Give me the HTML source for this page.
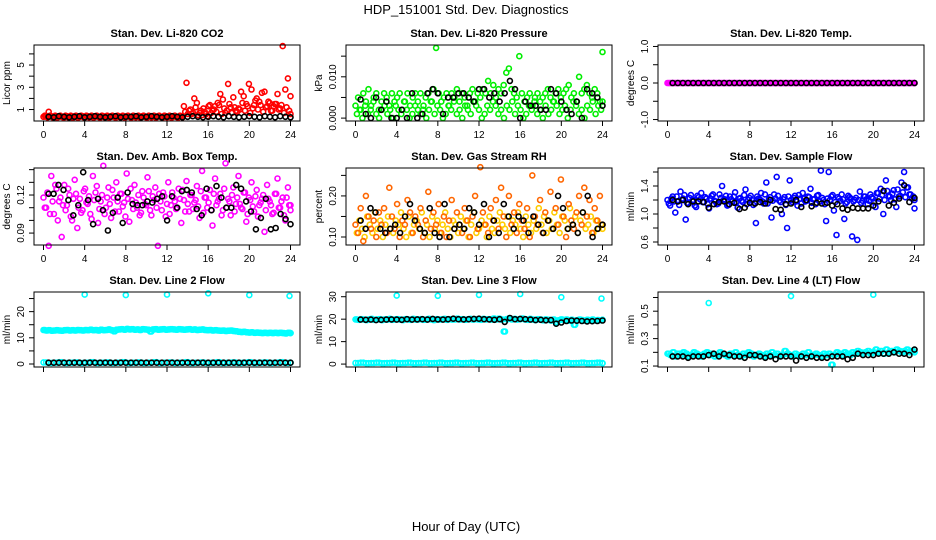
<!DOCTYPE html>
<html><head><meta charset="utf-8"><style>
html,body{margin:0;padding:0;background:#fff}
svg{display:block;font-family:"Liberation Sans",sans-serif}
</style></head><body>
<svg id="c" width="936" height="540" viewBox="0 0 936 540">
<text x="466" y="14" text-anchor="middle" font-size="13">HDP_151001  Std. Dev. Diagnostics</text>
<text x="466" y="531" text-anchor="middle" font-size="13">Hour of Day (UTC)</text>
</svg>
<script>
const xTicks=[0,4,8,12,16,20,24];
const outHours6=[4,8,12,16,20,23.9];
const outHours3=[4,12,20];
const co2A=[0.35,0.4,0.8,0.4,0.35,0.3,0.4,0.35,0.3,0.4,0.35,0.3,0.4,0.3,0.35,0.4,0.3,0.4,0.35,0.3,0.4,0.35,0.3,0.4,0.35,0.3,0.4,0.35,0.3,0.4,0.35,0.3,0.4,0.35,0.3,0.4,0.35,0.3,0.4,0.35,0.3,0.4,0.35,0.3,0.4,0.35,0.3,0.4,0.35,0.3,0.4,0.35,0.3,0.4,1.3,3.4,0.9,0.6,2.0,1.6,0.7,0.5,0.8,0.4,1.4,0.9,1.3,1.6,2.4,1.9,0.7,3.3,1.2,2.1,0.9,1.1,2.6,2.2,1.5,3.3,2.8,1.4,2.0,1.7,2.5,2.6,1.3,1.6,0.9,1.5,2.4,1.1,6.7,2.8,3.8,2.2];
const co2B=[0.45,0.3,0.45,0.3,0.45,0.3,0.45,0.3,0.45,0.3,0.45,0.3,0.45,0.3,0.45,0.3,0.45,0.3,0.45,0.3,0.45,0.3,0.45,0.3,0.45,0.3,0.45,0.3,0.45,0.3,0.45,0.3,0.45,0.3,0.45,0.3,0.45,0.3,0.45,0.3,0.45,0.3,0.45,0.3,0.45,0.3,0.45,0.3,0.45,0.3,0.45,0.3,0.45,0.3,0.8,0.6,1.0,0.7,1.2,0.5,0.9,1.1,0.6,1.3,0.7,1.0,0.8,1.4,0.6,1.1,0.9,1.5,0.7,1.2,0.8,1.0,1.6,0.9,1.3,0.7,1.1,1.8,1.0,1.4,0.8,1.2,1.7,0.9,1.3,1.5,1.0,1.4,0.7,1.2,0.9,0.6];
const co2K=[0.35,0.3,0.4,0.35,0.3,0.35,0.4,0.3,0.35,0.4,0.35,0.3,0.35,0.4,0.3,0.35,0.35,0.4,0.3,0.35,0.4,0.35,0.3,0.35,0.4,0.35,0.3,0.35,0.4,0.35,0.3,0.35,0.4,0.35,0.3,0.4,0.35,0.3,0.35,0.4,0.35,0.3,0.4,0.35,0.3,0.4,0.35,0.3];
const pA=[0.003,0.005,0.002,0.006,0.004,0.007,0.003,0.005,0.006,0.002,0.004,0.006,0.005,0.003,0.006,0.004,0.005,0.006,0.002,0.004,0.006,0.003,0.005,0.006,0.004,0.006,0.002,0.005,0.006,0.004,0.007,0.017,0.006,0.004,0.005,0.006,0.003,0.006,0.005,0.007,0.004,0.006,0.005,0.003,0.006,0.007,0.004,0.006,0.005,0.007,0.006,0.009,0.006,0.008,0.005,0.007,0.006,0.008,0.011,0.012,0.007,0.006,0.005,0.015,0.006,0.004,0.005,0.006,0.003,0.005,0.006,0.004,0.005,0.006,0.007,0.005,0.004,0.006,0.007,0.005,0.006,0.007,0.008,0.005,0.006,0.004,0.010,0.006,0.007,0.008,0.006,0.005,0.007,0.006,0.004,0.016];
const pB=[0.001,0.002,0.000,0.003,0.001,0.002,0.004,0.001,0.000,0.002,0.003,0.001,0.002,0.000,0.003,0.002,0.001,0.004,0.002,0.000,0.001,0.003,0.002,0.001,0.003,0.000,0.002,0.004,0.001,0.003,0.002,0.000,0.001,0.003,0.002,0.004,0.001,0.002,0.000,0.003,0.002,0.001,0.004,0.003,0.002,0.000,0.001,0.003,0.002,0.004,0.003,0.001,0.002,0.000,0.003,0.002,0.004,0.001,0.003,0.002,0.000,0.001,0.003,0.002,0.004,0.001,0.002,0.000,0.003,0.001,0.002,0.004,0.003,0.001,0.002,0.003,0.000,0.002,0.004,0.003,0.001,0.002,0.000,0.003,0.002,0.004,0.001,0.003,0.002,0.004];
const pK=[0.0045,0.001,0.000,0.005,0.002,0.004,0.000,0.000,0.002,0.000,0.006,0.000,0.001,0.006,0.007,0.006,0.001,0.005,0.005,0.006,0.006,0.005,0.004,0.007,0.007,0.005,0.006,0.004,0.006,0.009,0.007,0.000,0.004,0.003,0.003,0.002,0.002,0.007,0.006,0.004,0.002,0.001,0.004,0.000,0.007,0.006,0.005,0.003];
const tA=[0,0,0,0,0,0,0,0,0,0,0,0,0,0,0,0,0,0,0,0,0,0,0,0,0,0,0,0,0,0,0,0,0,0,0,0,0,0,0,0,0,0,0,0,0,0,0,0,0,0,0,0,0,0,0,0,0,0,0,0,0,0,0,0,0,0,0,0,0,0,0,0,0,0,0,0,0,0,0,0,0,0,0,0,0,0,0,0,0,0,0,0,0,0,0,0];
const tK=[0,0,0,0,0,0,0,0,0,0,0,0,0,0,0,0,0,0,0,0,0,0,0,0,0,0,0,0,0,0,0,0,0,0,0,0,0,0,0,0,0,0,0,0,0,0,0,0];
const aA=[0.118,0.110,0.080,0.135,0.105,0.125,0.115,0.087,0.128,0.112,0.120,0.100,0.132,0.094,0.117,0.108,0.125,0.113,0.105,0.135,0.122,0.098,0.115,0.143,0.110,0.126,0.102,0.118,0.130,0.107,0.121,0.114,0.137,0.099,0.116,0.128,0.110,0.104,0.123,0.113,0.134,0.108,0.119,0.126,0.080,0.115,0.122,0.103,0.130,0.112,0.118,0.109,0.125,0.098,0.116,0.131,0.107,0.120,0.114,0.127,0.102,0.139,0.118,0.110,0.124,0.096,0.133,0.115,0.121,0.108,0.145,0.117,0.104,0.126,0.113,0.135,0.110,0.122,0.099,0.118,0.130,0.107,0.124,0.112,0.117,0.091,0.128,0.115,0.105,0.121,0.133,0.110,0.118,0.100,0.126,0.112];
const aB=[0.110,0.122,0.105,0.115,0.128,0.100,0.118,0.112,0.108,0.125,0.103,0.117,0.121,0.110,0.106,0.123,0.114,0.119,0.101,0.116,0.127,0.109,0.120,0.105,0.118,0.113,0.124,0.107,0.115,0.121,0.111,0.103,0.117,0.125,0.109,0.114,0.120,0.106,0.118,0.112,0.123,0.104,0.116,0.110,0.121,0.108,0.119,0.113,0.105,0.122,0.115,0.110,0.117,0.124,0.107,0.113,0.120,0.109,0.116,0.111,0.123,0.106,0.118,0.114,0.108,0.121,0.112,0.117,0.104,0.125,0.110,0.115,0.120,0.107,0.118,0.113,0.109,0.122,0.105,0.116,0.111,0.119,0.103,0.114,0.120,0.108,0.117,0.112,0.106,0.121,0.110,0.115,0.104,0.118,0.112,0.108];
const aK=[0.121,0.121,0.128,0.124,0.116,0.104,0.112,0.138,0.116,0.097,0.117,0.108,0.092,0.106,0.118,0.098,0.122,0.113,0.112,0.112,0.115,0.114,0.117,0.119,0.100,0.119,0.110,0.123,0.124,0.122,0.109,0.104,0.125,0.108,0.127,0.118,0.110,0.110,0.128,0.125,0.115,0.107,0.093,0.102,0.117,0.093,0.094,0.105,0.101,0.097];
const rA=[0.13,0.11,0.17,0.09,0.20,0.15,0.12,0.14,0.10,0.16,0.13,0.17,0.11,0.22,0.15,0.12,0.18,0.10,0.14,0.13,0.19,0.16,0.11,0.15,0.13,0.17,0.10,0.14,0.21,0.12,0.16,0.13,0.18,0.11,0.15,0.10,0.14,0.19,0.12,0.16,0.13,0.11,0.17,0.14,0.10,0.15,0.20,0.12,0.27,0.16,0.13,0.11,0.17,0.14,0.19,0.12,0.22,0.15,0.10,0.20,0.13,0.16,0.11,0.18,0.14,0.12,0.17,0.10,0.25,0.15,0.13,0.19,0.11,0.16,0.14,0.21,0.12,0.17,0.13,0.24,0.15,0.10,0.18,0.14,0.12,0.16,0.20,0.13,0.22,0.15,0.19,0.11,0.17,0.14,0.20,0.13];
const rB=[0.11,0.14,0.12,0.10,0.15,0.13,0.11,0.16,0.12,0.14,0.10,0.13,0.15,0.12,0.11,0.14,0.13,0.16,0.12,0.10,0.15,0.11,0.13,0.14,0.12,0.16,0.11,0.13,0.10,0.15,0.12,0.14,0.11,0.13,0.16,0.12,0.10,0.14,0.13,0.11,0.15,0.12,0.14,0.10,0.13,0.16,0.11,0.12,0.14,0.13,0.10,0.15,0.12,0.11,0.14,0.16,0.13,0.12,0.15,0.11,0.14,0.13,0.16,0.12,0.10,0.15,0.13,0.11,0.14,0.12,0.17,0.13,0.15,0.11,0.14,0.12,0.16,0.13,0.11,0.15,0.14,0.12,0.17,0.13,0.15,0.11,0.14,0.16,0.12,0.13,0.15,0.11,0.14,0.12,0.13,0.12];
const rK=[0.14,0.12,0.17,0.16,0.12,0.11,0.12,0.13,0.11,0.15,0.18,0.14,0.12,0.11,0.17,0.11,0.10,0.18,0.10,0.12,0.13,0.12,0.17,0.16,0.13,0.18,0.10,0.14,0.11,0.18,0.15,0.12,0.15,0.14,0.11,0.15,0.13,0.11,0.14,0.12,0.20,0.17,0.12,0.13,0.11,0.16,0.20,0.10,0.12,0.13];
const sA=[1.20,1.12,1.25,1.02,1.18,1.32,1.22,0.92,1.15,1.27,1.20,1.10,1.24,1.30,1.17,1.22,1.08,1.26,1.19,1.14,1.28,1.40,1.21,1.12,1.25,1.18,1.31,1.09,1.23,1.17,1.35,1.20,1.26,1.13,0.87,1.22,1.30,1.15,1.45,1.21,0.95,1.28,1.53,1.19,1.00,1.24,0.80,1.48,1.17,1.26,1.12,1.22,1.30,1.18,1.25,1.36,1.21,1.14,1.27,1.62,1.20,0.90,1.60,1.25,1.05,0.70,1.22,1.28,0.93,1.17,1.24,0.68,1.20,0.63,1.32,1.19,1.25,1.14,1.28,1.22,1.10,1.30,1.36,1.00,1.48,1.26,1.20,1.34,1.10,1.25,1.45,1.60,1.38,1.28,1.22,1.08];
const sB=[1.15,1.22,1.18,1.25,1.13,1.20,1.27,1.16,1.23,1.19,1.12,1.26,1.21,1.17,1.24,1.14,1.22,1.28,1.18,1.15,1.23,1.20,1.26,1.13,1.21,1.25,1.17,1.22,1.19,1.27,1.14,1.23,1.20,1.16,1.25,1.21,1.18,1.28,1.15,1.24,1.19,1.22,1.26,1.17,1.21,1.13,1.25,1.20,1.23,1.18,1.27,1.15,1.22,1.19,1.24,1.16,1.21,1.26,1.18,1.23,1.14,1.22,1.20,1.27,1.17,1.24,1.19,1.21,1.15,1.26,1.22,1.18,1.23,1.20,1.16,1.25,1.21,1.19,1.24,1.17,1.30,1.22,1.27,1.20,1.33,1.25,1.29,1.21,1.35,1.26,1.31,1.24,1.38,1.28,1.25,1.20];
const sK=[1.20,1.18,1.20,1.14,1.18,1.18,1.17,1.09,1.14,1.17,1.18,1.14,1.16,1.07,1.09,1.16,1.15,1.17,1.15,1.20,1.07,1.06,1.14,1.15,1.20,1.10,1.20,1.11,1.16,1.15,1.16,1.12,1.14,1.08,1.06,1.09,1.08,1.08,1.08,1.12,1.18,1.33,1.12,1.16,1.22,1.41,1.17,1.23];
const l2A=[13.0,12.8,12.9,12.7,12.8,12.9,12.8,12.7,12.9,13.0,12.8,12.9,12.8,13.0,12.9,12.8,13.0,12.9,13.1,12.9,13.0,12.8,13.1,12.9,13.0,13.2,12.9,12.5,13.1,13.2,13.3,13.1,13.4,13.2,13.3,13.1,13.2,13.0,13.3,13.2,13.1,12.4,13.2,13.3,13.1,13.2,13.3,13.1,13.2,13.3,13.2,13.1,13.3,13.2,13.1,13.2,13.3,13.1,13.2,13.0,13.1,13.2,13.0,12.9,13.0,12.8,12.9,12.8,12.7,12.8,12.6,12.7,12.8,12.6,12.5,12.3,12.2,12.3,12.1,12.0,12.1,11.9,12.0,11.9,11.8,11.9,11.8,11.9,11.8,11.9,11.8,11.9,11.8,11.7,11.9,11.8];
const l2Low=[0.6,0.4,0.5,0.7,0.4,0.5,0.6,0.4,0.5,0.7,0.4,0.5,0.6,0.4,0.5,0.7,0.4,0.5,0.6,0.4,0.5,0.7,0.4,0.5,0.6,0.4,0.5,0.7,0.4,0.5,0.6,0.4,0.5,0.7,0.4,0.5,0.6,0.4,0.5,0.7,0.4,0.5,0.6,0.4,0.5,0.7,0.4,0.5];
const l2Out=[26.5,26.3,26.5,27.0,26.3,26.0];
const l2K=[0.5,0.5,0.5,0.5,0.5,0.5,0.5,0.5,0.5,0.5,0.5,0.5,0.5,0.5,0.5,0.5,0.5,0.5,0.5,0.5,0.5,0.5,0.5,0.5,0.5,0.5,0.5,0.5,0.5,0.5,0.5,0.5,0.5,0.5,0.5,0.5,0.5,0.5,0.5,0.5,0.5,0.5,0.5,0.5,0.5,0.5,0.5,0.5];
const l3A=[19.9,19.7,20.0,19.8,19.6,19.9,20.1,19.7,19.8,20.0,19.6,19.9,19.8,20.1,19.7,19.9,20.0,19.8,19.6,20.0,19.9,19.7,20.1,19.8,19.9,20.0,19.7,19.8,20.1,19.9,19.6,20.0,19.8,19.9,20.1,19.7,20.0,19.8,19.9,20.2,19.8,20.0,19.7,19.9,20.1,19.8,20.0,19.9,19.7,20.1,19.9,20.0,19.8,20.3,19.9,20.2,19.8,14.5,20.0,20.4,19.9,20.1,19.8,20.0,20.3,19.9,19.7,20.1,19.8,19.6,20.0,19.8,19.5,19.9,19.7,19.4,19.8,18.6,19.5,19.9,19.6,19.8,19.3,19.7,17.5,19.5,19.8,19.6,19.3,19.7,19.5,19.8,19.4,19.6,19.5,19.7];
const l3Low=[0.5,0.6,0.4,0.5,0.6,0.4,0.5,0.6,0.4,0.5,0.6,0.4,0.5,0.6,0.4,0.5,0.6,0.4,0.5,0.6,0.4,0.5,0.6,0.4,0.5,0.6,0.4,0.5,0.6,0.4,0.5,0.6,0.4,0.5,0.6,0.4,0.5,0.6,0.4,0.5,0.6,0.4,0.5,0.6,0.4,0.5,0.6,0.4];
const l3Out=[30.5,30.4,30.8,31.2,29.8,29.2];
const l3K=[19.8,19.7,19.8,19.6,19.7,19.8,19.9,19.8,19.7,20.0,19.8,19.9,20.0,19.8,20.1,19.9,19.8,20.0,20.2,20.0,19.9,20.0,20.1,20.2,20.0,19.9,19.7,20.0,18.8,20.5,20.0,20.1,20.0,19.8,19.6,19.7,19.5,19.6,18.0,18.5,19.2,19.4,19.3,19.2,19.0,19.1,19.2,19.4];
const l4A=[0.19,0.18,0.20,0.17,0.19,0.18,0.20,0.19,0.17,0.18,0.20,0.19,0.18,0.17,0.19,0.20,0.18,0.19,0.17,0.18,0.20,0.19,0.18,0.17,0.19,0.18,0.20,0.18,0.17,0.19,0.18,0.20,0.19,0.17,0.18,0.19,0.18,0.17,0.19,0.18,0.20,0.18,0.19,0.17,0.18,0.21,0.19,0.18,0.17,0.19,0.18,0.17,0.19,0.18,0.20,0.17,0.18,0.19,0.18,0.17,0.19,0.18,0.19,0.11,0.18,0.20,0.19,0.18,0.20,0.19,0.18,0.20,0.19,0.21,0.20,0.19,0.20,0.21,0.19,0.20,0.22,0.20,0.21,0.19,0.22,0.20,0.21,0.20,0.22,0.21,0.20,0.21,0.22,0.20,0.21,0.20];
const l4Out=[0.56,0.61,0.62];
const l4K=[0.17,0.17,0.17,0.16,0.17,0.17,0.17,0.18,0.19,0.17,0.19,0.18,0.17,0.17,0.16,0.18,0.18,0.17,0.16,0.17,0.15,0.17,0.17,0.17,0.14,0.17,0.16,0.17,0.16,0.16,0.16,0.17,0.17,0.17,0.15,0.16,0.19,0.18,0.18,0.18,0.19,0.19,0.19,0.20,0.19,0.19,0.18,0.22];

const svg=document.getElementById('c');
const NS='http://www.w3.org/2000/svg';
const colLeft=[34,346,658], rowTop=[45,168,292], rowBot=[121,245,367], W=266;
function mk(tag,attrs,parent){const e=document.createElementNS(NS,tag);for(const k in attrs)e.setAttribute(k,attrs[k]);(parent||svg).appendChild(e);return e;}
function panel(o){
  const L=colLeft[o.col],T=rowTop[o.row],B=rowBot[o.row];
  const g=mk('g',{});
  
  
  const xs=h=>L+9.5+h*(W-19)/24;
  const ys=v=>B-(v-o.ymin)/(o.ymax-o.ymin)*(B-T);
  const t=mk('text',{x:L+W/2,y:T-8,'text-anchor':'middle','font-size':11,'font-weight':'bold'},g);
  t.textContent=o.title;
  
  
  const yl=mk('text',{x:L-24,y:(T+B)/2,'text-anchor':'middle','font-size':10,transform:`rotate(-90 ${L-24} ${(T+B)/2})`},g);
  yl.textContent=o.ylab;
  
  
  const pts=mk('g',{fill:'none','stroke-width':1.6},g);
  
  
  o.series.forEach(s=>{
    const n=s.v.length;
    s.v.forEach((v,i)=>{
      let h;
      if(s.h) h=s.h[i];
      else if(s.black) h=0.5+i*23.5/(n-1);
      else { const step=24/(n-1); h=Math.min(24,i*step+(s.off?step/2:0)); }
      const c=mk('circle',{cx:xs(h).toFixed(1),cy:ys(v).toFixed(1),r:2.5,stroke:s.c},pts);
      
      
    });
  });
  const box=mk('rect',{x:L,y:T,width:W,height:B-T,fill:'none',stroke:'#000','stroke-width':1},g);
  
  
  const ax=mk('g',{stroke:'#000','stroke-width':1},g);
  
  
  xTicks.forEach(h=>{mk('line',{x1:xs(h),x2:xs(h),y1:B,y2:B+5},ax);
    if(o.row<2){const tx=mk('text',{x:xs(h),y:B+17,'text-anchor':'middle','font-size':10,stroke:'none'},ax);tx.textContent=h;
      
      }});
  o.yt.forEach((v,i)=>{const y=ys(v);mk('line',{x1:L-5,x2:L,y1:y,y2:y},ax);
    if(o.yl[i]!==''){const tx=mk('text',{x:L-10,y:y,'text-anchor':'middle','font-size':10,stroke:'none',transform:`rotate(-90 ${L-10} ${y})`},ax);tx.textContent=o.yl[i];
      
      }});
}
panel({name:'co2',col:0,row:0,title:'Stan. Dev. Li-820 CO2',ylab:'Licor ppm',ymin:-0.03,ymax:6.8,yt:[1,2,3,4,5,6],yl:['1','','3','','5',''],
  series:[{v:co2B,c:'#ff0000',off:1},{v:co2A,c:'#ff0000'},{v:co2K,c:'#000',black:1}]});
panel({name:'pressure',col:1,row:0,title:'Stan. Dev. Li-820 Pressure',ylab:'kPa',ymin:-0.0007,ymax:0.0177,yt:[0,0.005,0.01,0.015],yl:['0.000','','0.010',''],
  series:[{v:pB,c:'#00ee00',off:1},{v:pA,c:'#00ee00'},{v:pK,c:'#000',black:1}]});
panel({name:'temp',col:2,row:0,title:'Stan. Dev. Li-820 Temp.',ylab:'degrees C',ymin:-1.04,ymax:1.04,yt:[-1,-0.5,0,0.5,1],yl:['-1.0','','0.0','','1.0'],
  series:[{v:tA,c:'#ff00ff'},{v:tA,c:'#ff00ff',off:1},{v:tK,c:'#000',black:1}]});
panel({name:'amb-temp',col:0,row:1,title:'Stan. Dev. Amb. Box Temp.',ylab:'degrees C',ymin:0.0806,ymax:0.1413,yt:[0.09,0.10,0.11,0.12,0.13,0.14],yl:['0.09','','','0.12','',''],
  series:[{v:aB,c:'#ff00ff',off:1},{v:aA,c:'#ff00ff'},{v:aK,c:'#000',black:1}]});
panel({name:'rh',col:1,row:1,title:'Stan. Dev. Gas Stream RH',ylab:'percent',ymin:0.0805,ymax:0.268,yt:[0.10,0.15,0.20,0.25],yl:['0.10','','0.20',''],
  series:[{v:rB,c:'#ffcc00',off:1},{v:rA,c:'#ff6600'},{v:rK,c:'#000',black:1}]});
panel({name:'sample-flow',col:2,row:1,title:'Stan. Dev. Sample Flow',ylab:'ml/min',ymin:0.557,ymax:1.657,yt:[0.6,0.8,1.0,1.2,1.4,1.6],yl:['0.6','','1.0','','1.4',''],
  series:[{v:sB,c:'#0000ff',off:1},{v:sA,c:'#0000ff'},{v:sK,c:'#000',black:1}]});
panel({name:'line2-flow',col:0,row:2,title:'Stan. Dev. Line 2 Flow',ylab:'ml/min',ymin:-1.15,ymax:27.5,yt:[0,5,10,15,20,25],yl:['0','','10','','20',''],
  series:[{v:l2A,c:'#00ffff'},{v:l2A,c:'#00ffff',off:1},{v:l2Low,c:'#00ffff'},{v:l2Low,c:'#00ffff',off:1},{v:l2Out,h:outHours6,c:'#00ffff'},{v:l2K,c:'#000',black:1}]});
panel({name:'line3-flow',col:1,row:2,title:'Stan. Dev. Line 3 Flow',ylab:'ml/min',ymin:-1.3,ymax:32.1,yt:[0,10,20,30],yl:['0','10','20','30'],
  series:[{v:l3A,c:'#00ffff'},{v:l3A,c:'#00ffff',off:1},{v:l3Low,c:'#00ffff'},{v:l3Low,c:'#00ffff',off:1},{v:l3Out,h:outHours6,c:'#00ffff'},{v:l3K,c:'#000',black:1}]});
panel({name:'line4-flow',col:2,row:2,title:'Stan. Dev. Line 4 (LT) Flow',ylab:'ml/min',ymin:0.093,ymax:0.64,yt:[0.1,0.2,0.3,0.4,0.5,0.6],yl:['0.1','','0.3','','0.5',''],
  series:[{v:l4A,c:'#00ffff'},{v:l4A,c:'#00ffff',off:1},{v:l4Out,h:outHours3,c:'#00ffff'},{v:l4K,c:'#000',black:1}]});
</script>
</body></html>
